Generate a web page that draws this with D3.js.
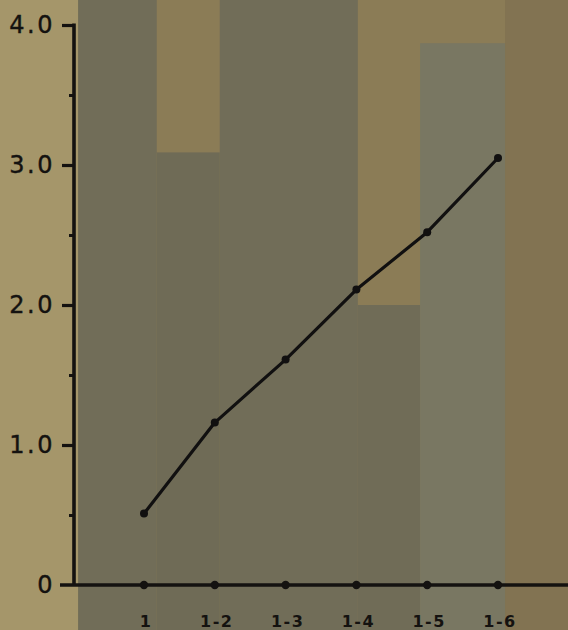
<!DOCTYPE html>
<html>
<head>
<meta charset="utf-8">
<script src="https://cdn.jsdelivr.net/npm/d3@7/dist/d3.min.js"></script>
<style>
html,body{margin:0;padding:0;background:#8a7c57;}
svg{display:block;}
text{font-family:"DejaVu Sans",sans-serif;fill:#141210;}
</style>
</head>
<body>
<svg id="chart" width="568" height="630"></svg>
<script>
// ---- data ----
const categories = ["1", "1-2", "1-3", "1-4", "1-5", "1-6"];
const values = [0.51, 1.16, 1.61, 2.11, 2.52, 3.05];
const yTicks = [0, 1.0, 2.0, 3.0, 4.0];
const yTickLabels = ["0", "1.0", "2.0", "3.0", "4.0"];
const yMinorTicks = [0.5, 1.5, 2.5, 3.5];
// faint bars showing through the paper from the reverse side (start, end in category units; height in y units)
const ghostStart = [-0.93, 0.18, 1.07, 3.02, 3.9];
const ghostEnd   = [0.18, 1.07, 3.02, 3.9, 5.1];
const ghostValue = [4.3, 3.09, 4.3, 2.0, 3.87];
const ghostShade = ["#716d58", "#6f6b56", "#716d58", "#706c57", "#797762"];

// ---- layout ----
const W = 568, H = 630;
const svg = d3.select("#chart");
const y = d3.scaleLinear().domain([0, 4]).range([585, 25]);
const xi = d3.scaleLinear().domain([0, 5]).range([144, 498]);
const x = d3.scalePoint().domain(categories).range([144, 498]);
const axisX = 74;

// paper background
const paper = svg.append("g");
paper.append("rect").attr("x", 0).attr("y", 0).attr("width", W).attr("height", H).attr("fill", "#8b7c56");
paper.append("rect").attr("x", 0).attr("y", 0).attr("width", xi(ghostStart[0])).attr("height", H).attr("fill", "#a5966a");
paper.append("rect").attr("x", xi(ghostEnd[4])).attr("y", 0).attr("width", W - xi(ghostEnd[4])).attr("height", H).attr("fill", "#827352");

// show-through bars
paper.selectAll("rect.ghost").data(ghostValue).join("rect")
  .attr("class", "ghost")
  .attr("x", (d, i) => xi(ghostStart[i]))
  .attr("width", (d, i) => xi(ghostEnd[i]) - xi(ghostStart[i]))
  .attr("y", d => Math.max(0, y(d)))
  .attr("height", d => H - Math.max(0, y(d)))
  .attr("fill", (d, i) => ghostShade[i]);

// y axis
const yAxis = d3.axisLeft(y).tickValues(yTicks).tickFormat((d, i) => yTickLabels[i]).tickSize(12).tickPadding(7);
const gy = svg.append("g").attr("transform", `translate(${axisX},0)`).call(yAxis);
gy.select(".domain").remove();
gy.selectAll(".tick line").attr("stroke", "#141210").attr("stroke-width", 3.2);
gy.selectAll(".tick text").attr("font-size", 24).attr("letter-spacing", 2.5).attr("fill", "#141210")
  .attr("stroke", "#141210").attr("stroke-width", 0.4).style("font-family", "DejaVu Sans");
gy.selectAll(".tick").filter(d => d === 0).select("line").remove();

const yMinor = d3.axisLeft(y).tickValues(yMinorTicks).tickFormat("").tickSize(5);
const gym = svg.append("g").attr("transform", `translate(${axisX},0)`).call(yMinor);
gym.select(".domain").remove();
gym.selectAll(".tick line").attr("stroke", "#141210").attr("stroke-width", 3);

svg.append("line").attr("x1", axisX).attr("x2", axisX).attr("y1", y(4) - 1.5).attr("y2", y(0))
  .attr("stroke", "#141210").attr("stroke-width", 3.6);

// x axis
svg.append("line").attr("x1", 60).attr("x2", W).attr("y1", y(0)).attr("y2", y(0))
  .attr("stroke", "#141210").attr("stroke-width", 3.6);
svg.selectAll("circle.xdot").data(categories).join("circle")
  .attr("class", "xdot").attr("cx", d => x(d)).attr("cy", y(0)).attr("r", 4.2).attr("fill", "#141210");
svg.selectAll("text.xlab").data(categories).join("text")
  .attr("class", "xlab").attr("x", d => x(d) + 2).attr("y", 627)
  .attr("text-anchor", "middle").attr("font-size", 16).attr("font-weight", "bold").attr("letter-spacing", 1.5)
  .text(d => d);

// data line
const line = d3.line().x((d, i) => x(categories[i])).y(d => y(d));
svg.append("path").datum(values).attr("d", line).attr("fill", "none")
  .attr("stroke", "#111010").attr("stroke-width", 3.2).attr("stroke-linejoin", "round");
svg.selectAll("circle.pt").data(values).join("circle")
  .attr("class", "pt").attr("cx", (d, i) => x(categories[i])).attr("cy", d => y(d)).attr("r", 4).attr("fill", "#111010");
</script>
</body>
</html>
